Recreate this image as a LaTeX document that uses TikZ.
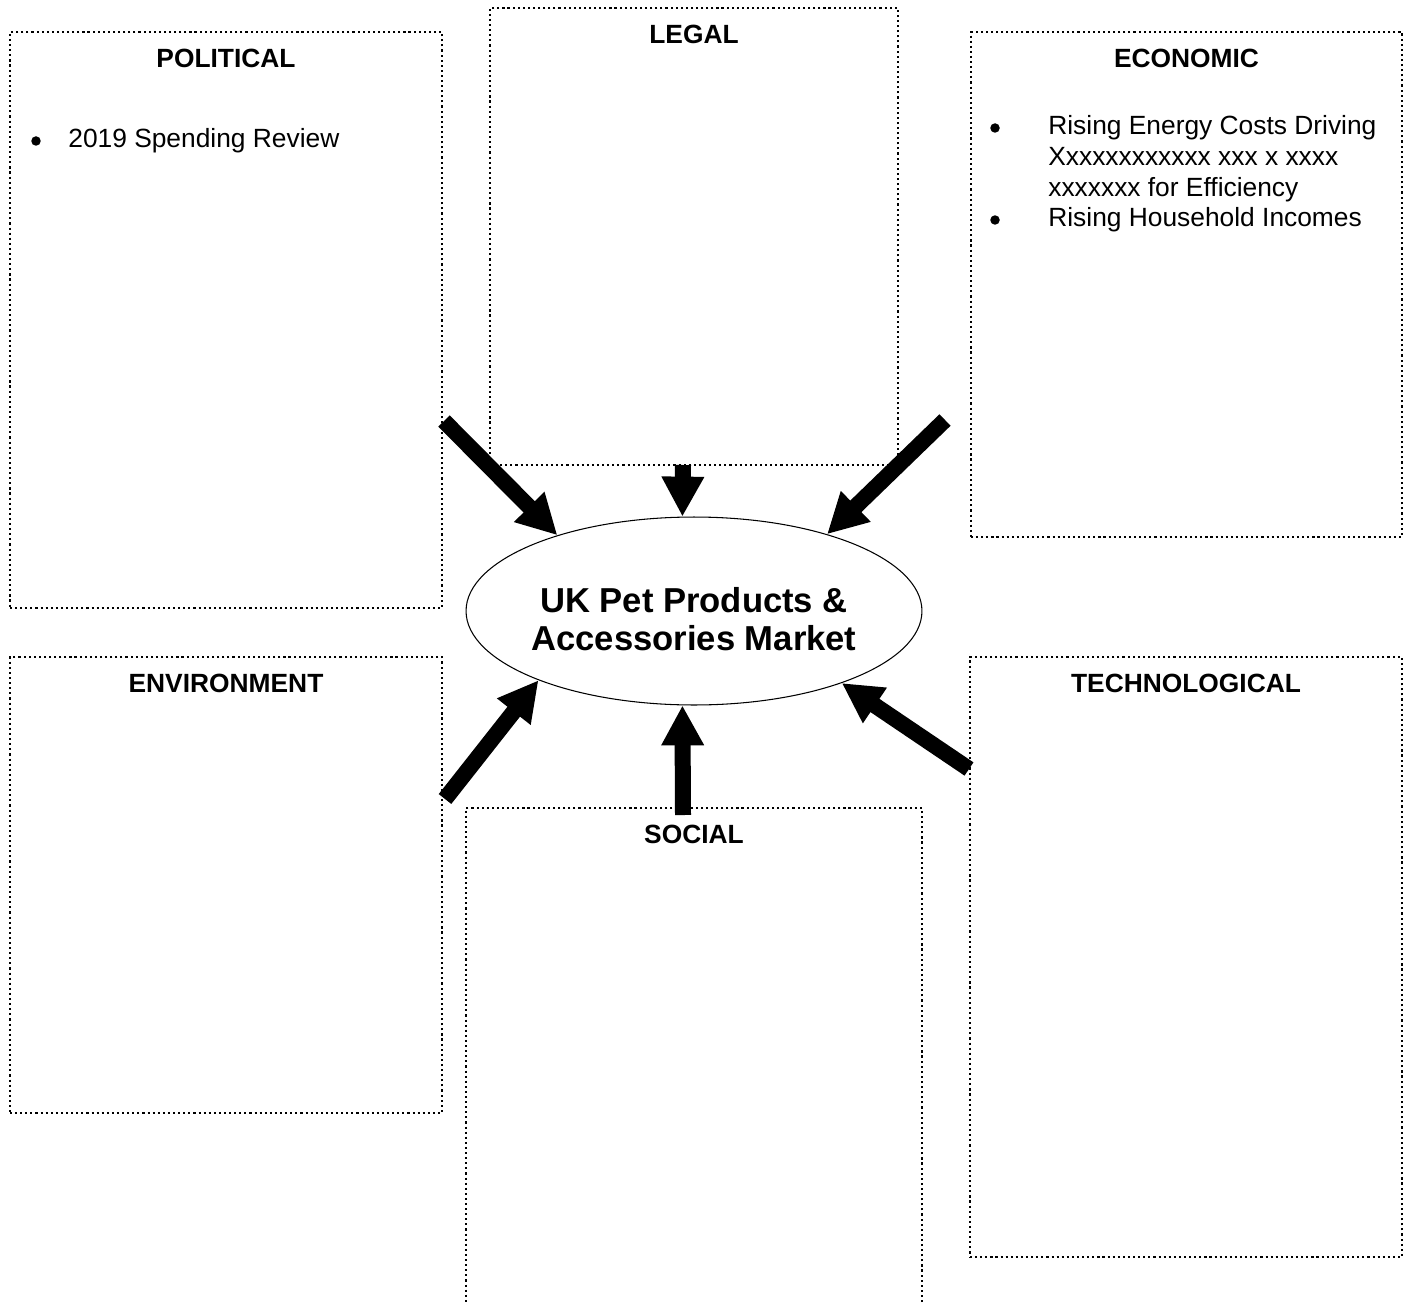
\documentclass[tikz,border=0pt]{standalone}
\usepackage{fontspec}
\setmainfont{Liberation Sans}
\usetikzlibrary{arrows.meta,shapes.geometric,fit,positioning}
\tikzset{%
    pestbox/.style={%
        draw, line width=1.2pt, dash pattern=on 1.2pt off 1.7pt, inner sep=0pt
    },
    heading/.style={%
        font=\fontsize{15}{17.5}\selectfont\bfseries, inner sep=0pt
    },
    item/.style={%
        font=\fontsize{15}{17.5}\selectfont, inner sep=0pt, anchor=base west
    },
    dot/.style={%
        circle, fill, inner sep=0pt, minimum size=0.19cm
    },
    market/.style={%
        ellipse, draw, line width=0.6pt, minimum width=9.12cm, minimum height=3.76cm, inner sep=0pt
    },
    marketname/.style={%
        align=center, inner sep=0pt, font=\fontsize{19.7}{22}\selectfont\bfseries
    },
    force/.style={%
        line width=0.32cm, -{Triangle[width=0.8cm,length=0.8cm]}
    },
}
\begin{document}
\begin{tikzpicture}[x=0.02cm, y=-0.02cm]

    \useasboundingbox (0,0) rectangle (1412,1304);
    \clip (0,0) rectangle (1412,1304);

    % the six factor boxes
    \node[pestbox, fit={(10,32) (442,608)}] (political) {};
    \node[pestbox, fit={(490,8) (898,465)}] (legal) {};
    \node[pestbox, fit={(971,32) (1402,537)}] (economic) {};
    \node[pestbox, fit={(10,657) (442,1113)}] (environment) {};
    \node[pestbox, fit={(466,808) (922,1320)}] (social) {};
    \node[pestbox, fit={(970,657) (1402,1257)}] (technological) {};

    \node[heading, below=0.35cm of political.north] (politicalhead) {POLITICAL};
    \node[heading, below=0.35cm of legal.north] (legalhead) {LEGAL};
    \node[heading, below=0.35cm of economic.north] (economichead) {ECONOMIC};
    \node[heading, below=0.35cm of environment.north] (environmenthead) {ENVIRONMENT};
    \node[heading, below=0.35cm of social.north] (socialhead) {SOCIAL};
    \node[heading, below=0.35cm of technological.north] (technologicalhead) {TECHNOLOGICAL};

    % bullet points
    \node[dot] (poldot) at (36,141) {};
    \node[item] (politem) at (68,148) {2019 Spending Review};

    \node[dot] (ecodota) at (995,128) {};
    \node[item] (ecoitema) at (1048,135) {\begin{tabular}[t]{@{}l@{}}Rising Energy Costs Driving\\Xxxxxxxxxxxx xxx x xxxx\\xxxxxxx for Efficiency\end{tabular}};
    \node[dot] (ecodotb) at (995,220) {};
    \node[item] (ecoitemb) at (1048,227) {Rising Household Incomes};

    % the market in the middle
    \node[market] (market) at (694,611) {};
    \node[marketname, below=0.16cm of market.center, anchor=center] (markettext) {UK Pet Products \&\\Accessories Market};

    % arrows into the market
    \coordinate (poltail) at (444,421);
    \coordinate (legtail) at (683,465);
    \coordinate (ecotail) at (945,420);
    \coordinate (envtail) at (445,799);
    \coordinate (soctail) at (683,815);
    \coordinate (tectail) at (969,769);

    \draw[force] (poltail) -- (market.151);
    \draw[force] (legtail) -- (market.97);
    \draw[force] (ecotail) -- (market.30);
    \draw[force] (envtail) -- (market.204);
    \draw[force] (soctail) -- (market.263);
    \draw[force] (tectail) -- (market.334);

\end{tikzpicture}
\end{document}
